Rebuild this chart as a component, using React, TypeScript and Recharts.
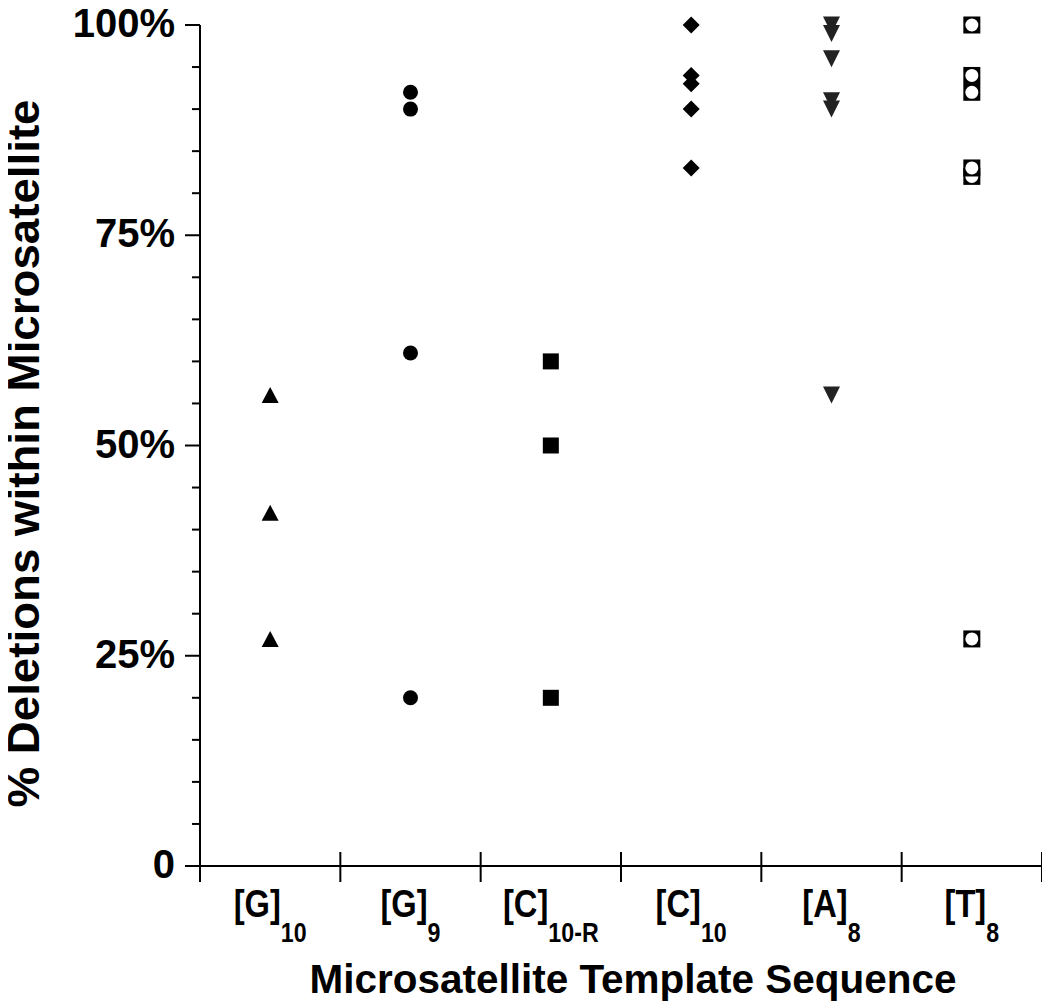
import { Scatter, ScatterChart, XAxis, YAxis } from 'recharts'

const categoryBases = ['[G]', '[G]', '[C]', '[C]', '[A]', '[T]']
const categorySubs = ['10', '9', '10-R', '10', '8', '8']
const boundaryTicks = [0, 1, 2, 3, 4, 5, 6]

const yTicks = [0, 5, 10, 15, 20, 25, 30, 35, 40, 45, 50, 55, 60, 65, 70, 75, 80, 85, 90, 95, 100]
const yMajorLabels: Record<number, string> = { 0: '0', 25: '25%', 50: '50%', 75: '75%', 100: '100%' }

const g10Values = [56, 42, 27]
const g9Values = [92, 90, 61, 20]
const c10rValues = [60, 50, 20]
const c10Values = [100, 94, 93, 90, 83]
const a8Values = [100, 99, 96, 91, 90, 56]
const t8Values = [100, 94, 92, 82, 83, 27]

const FONT = '"Liberation Sans", Arial, sans-serif'

const toPoints = (values: number[], index: number) =>
  values.map((v) => ({ x: index + 0.5, y: v }))

const TriangleUp = ({ cx, cy }: any) => (
  <polygon points={`${cx},${cy - 8} ${cx + 8.5},${cy + 8} ${cx - 8.5},${cy + 8}`} fill="#000" />
)
const Dot = ({ cx, cy }: any) => <circle cx={cx} cy={cy} r={7.5} fill="#000" />
const Square = ({ cx, cy }: any) => (
  <rect x={cx - 8} y={cy - 8} width={16} height={16} fill="#000" />
)
const Diamond = ({ cx, cy }: any) => (
  <polygon
    points={`${cx},${cy - 8.5} ${cx + 8.5},${cy} ${cx},${cy + 8.5} ${cx - 8.5},${cy}`}
    fill="#000"
  />
)
const TriangleDown = ({ cx, cy }: any) => (
  <polygon points={`${cx - 8.5},${cy - 8.5} ${cx + 8.5},${cy - 8.5} ${cx},${cy + 8.5}`} fill="#222" />
)
const SquareCircle = ({ cx, cy }: any) => (
  <g>
    <rect x={cx - 8.5} y={cy - 8.5} width={17} height={17} fill="#000" />
    <circle cx={cx} cy={cy} r={6.5} fill="#fff" />
  </g>
)

const XTick = (props: any) => {
  const { x, y, payload, width } = props
  const i = payload.value
  const half = (width || 842) / 6 / 2
  const lx = x + half
  return (
    <g>
      <line x1={x} y1={y - 14} x2={x} y2={y + 16} stroke="#000" strokeWidth={2} />
      {i < categoryBases.length && (
        <g transform={`translate(${lx},0) scale(0.86,1) translate(${-lx},0)`}>
          <text
            x={lx}
            y={y + 51}
            textAnchor="middle"
            fontFamily={FONT}
            fontWeight="bold"
            fontSize={38}
            fill="#000"
          >
            {categoryBases[i]}
            <tspan fontSize={27} dy={25}>
              {categorySubs[i]}
            </tspan>
          </text>
        </g>
      )}
    </g>
  )
}

const YTick = (props: any) => {
  const { x, y, payload } = props
  const label = yMajorLabels[payload.value]
  const major = label !== undefined
  return (
    <g>
      <line x1={x - (major ? 15 : 8)} y1={y} x2={x} y2={y} stroke="#000" strokeWidth={2} />
      {major && (
        <text
          x={x - 25}
          y={y + 12}
          textAnchor="end"
          fontFamily={FONT}
          fontWeight="bold"
          fontSize={40}
          fill="#000"
        >
          {label}
        </text>
      )}
    </g>
  )
}

const XTitle = ({ viewBox }: any) => (
  <text
    x={viewBox.x + viewBox.width / 2 + 12}
    y={viewBox.y + 127}
    textAnchor="middle"
    fontFamily={FONT}
    fontWeight="bold"
    fontSize={41}
    textLength={647}
    lengthAdjust="spacingAndGlyphs"
    fill="#000"
  >
    Microsatellite Template Sequence
  </text>
)

const YTitle = ({ viewBox }: any) => {
  const cx = 31
  const cy = viewBox.y + viewBox.height / 2 + 8
  return (
    <text
      x={cx}
      y={cy}
      transform={`rotate(-90, ${cx}, ${cy})`}
      textAnchor="middle"
      fontFamily={FONT}
      fontWeight="bold"
      fontSize={44}
      textLength={708}
      lengthAdjust="spacingAndGlyphs"
      fill="#000"
    >
      % Deletions within Microsatellite
    </text>
  )
}

export default function App() {
  return (
    <ScatterChart
      width={1042}
      height={997}
      margin={{ top: 17, right: 8, bottom: 0, left: 0 }}
      style={{ background: '#fff' }}
    >
      <XAxis
        type="number"
        dataKey="x"
        domain={[0, 6]}
        ticks={boundaryTicks}
        interval={0}
        height={139}
        tickSize={0}
        tickMargin={0}
        tickLine={false}
        axisLine={{ stroke: '#000', strokeWidth: 2 }}
        tick={<XTick />}
        label={<XTitle />}
      />
      <YAxis
        type="number"
        dataKey="y"
        domain={[0, 100]}
        ticks={yTicks}
        interval={0}
        width={192}
        tickSize={0}
        tickMargin={0}
        tickLine={false}
        axisLine={{ stroke: '#000', strokeWidth: 2 }}
        tick={<YTick />}
        label={<YTitle />}
      />
      <Scatter data={toPoints(g10Values, 0)} shape={TriangleUp} isAnimationActive={false} />
      <Scatter data={toPoints(g9Values, 1)} shape={Dot} isAnimationActive={false} />
      <Scatter data={toPoints(c10rValues, 2)} shape={Square} isAnimationActive={false} />
      <Scatter data={toPoints(c10Values, 3)} shape={Diamond} isAnimationActive={false} />
      <Scatter data={toPoints(a8Values, 4)} shape={TriangleDown} isAnimationActive={false} />
      <Scatter data={toPoints(t8Values, 5)} shape={SquareCircle} isAnimationActive={false} />
    </ScatterChart>
  )
}
